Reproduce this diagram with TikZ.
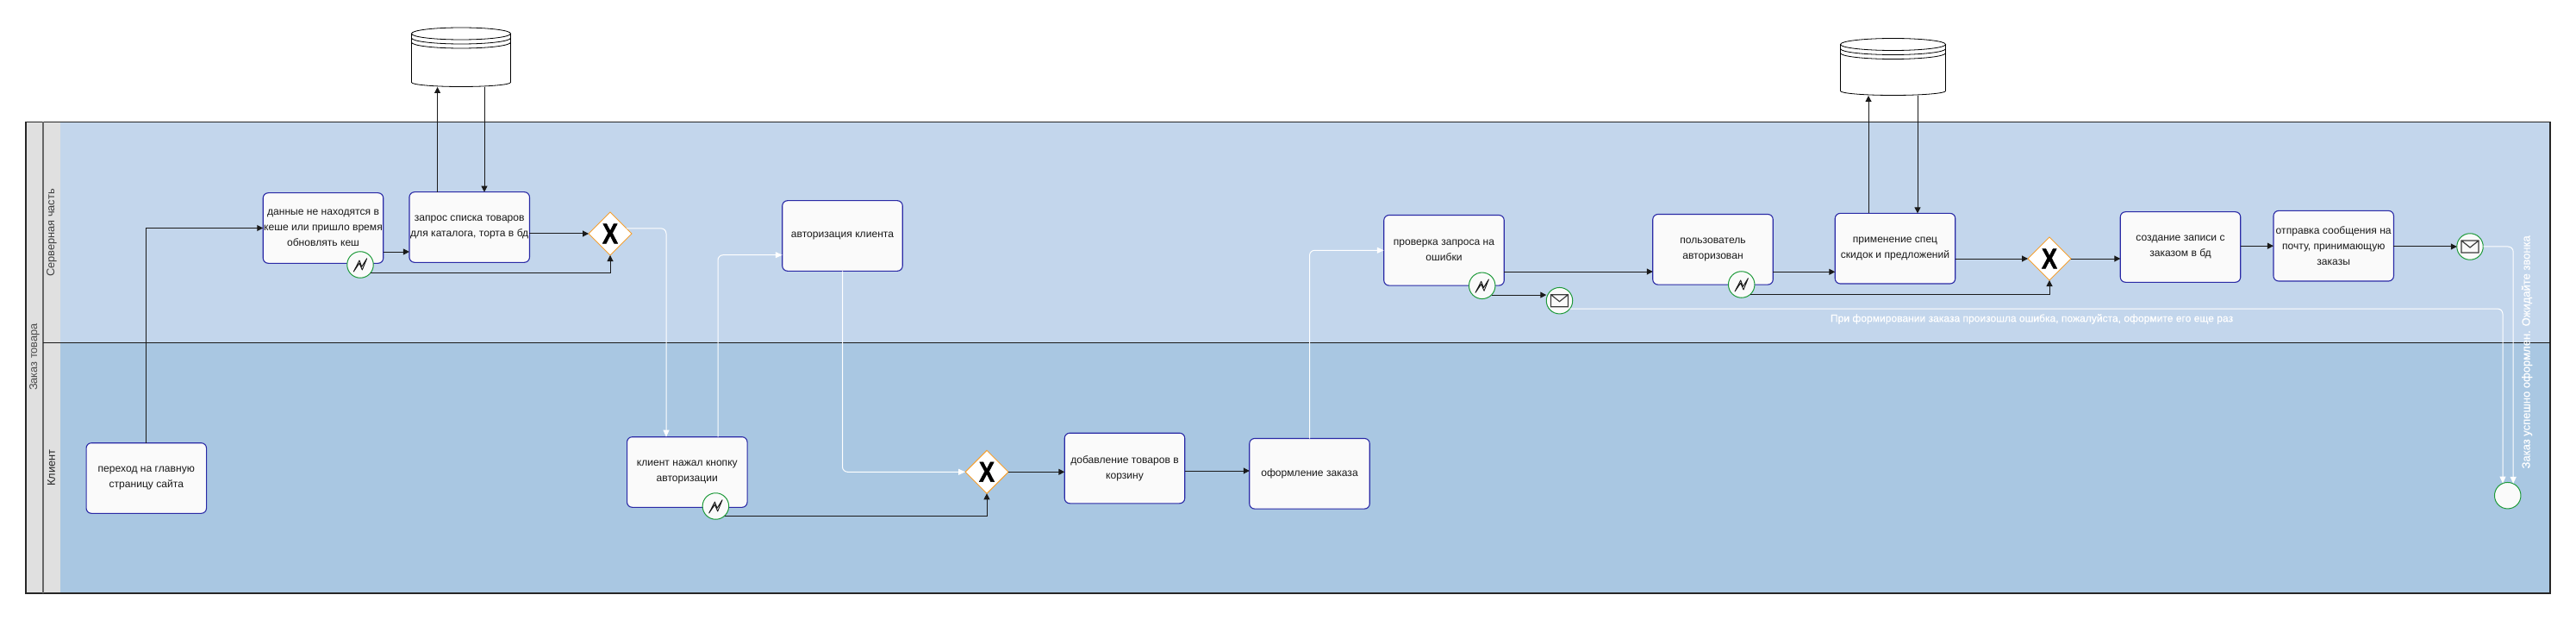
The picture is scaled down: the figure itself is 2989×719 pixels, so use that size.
\documentclass[tikz,border=0pt]{standalone}
\usepackage{fontspec}
\setmainfont{Liberation Sans}
\newfontface\gatefont{Liberation Sans Bold}[FakeBold=1.5]
\newfontface\msgfont{Liberation Sans}[FakeBold=0.5]
\usetikzlibrary{arrows.meta,shapes.geometric}
\definecolor{laneA}{HTML}{C3D6EC}
\definecolor{laneB}{HTML}{A9C7E2}
\definecolor{headgray}{HTML}{E0E0E0}
\definecolor{tasknavy}{HTML}{2A2AA6}
\definecolor{nodefill}{HTML}{FAFAFA}
\definecolor{gateorange}{HTML}{F5A030}
\definecolor{eventgreen}{HTML}{1E9A3A}
\definecolor{inkdark}{HTML}{1A1A1A}
\tikzset{
  x=1pt,y=-1pt,
  taskbox/.style={draw=tasknavy,line width=1.1pt,fill=nodefill,rounded corners=6pt,minimum width=139.5pt,minimum height=81.6pt,
    inner sep=0pt,outer sep=0pt,align=center,text=inkdark,font=\fontsize{12.1pt}{18pt}\selectfont},
  gatebox/.style={diamond,aspect=1,draw=gateorange,line width=1pt,fill=white,minimum size=50pt,inner sep=0pt,outer sep=0pt,
    font=\fontsize{30pt}{30pt}\gatefont},
  eventbox/.style={circle,draw=eventgreen,line width=1pt,fill=nodefill,minimum size=30.5pt,inner sep=0pt,outer sep=0pt},
  flow/.style={draw=inkdark,line width=1pt,-{Triangle[length=7pt,width=7pt]}},
  whiteflow/.style={draw=white,line width=1pt,rounded corners=6pt,-{Triangle[length=8pt,width=7pt,fill=white]}},
  lanetext/.style={rotate=90,font=\fontsize{12.8pt}{15pt}\selectfont,text=#1,inner sep=0pt},
  storebox/.style={inner sep=0pt,outer sep=0pt,minimum width=#1,minimum height=1pt},
  msgtext/.style={text=white,inner sep=0pt,font=\fontsize{12.05pt}{15pt}\msgfont},
}
\newcommand{\gatex}{\scalebox{.9}[1.1]{X}}
\newcommand{\zigzag}[1]{\draw[line width=.9pt,draw=inkdark,line join=round] (#1.center) ++(-7.7,8) -- ++(6.7,-13) -- ++(2.7,7.3) -- ++(6,-9.6) -- ++(-5.4,13.3) -- ++(-3.3,-7.7) -- cycle;}
\newcommand{\envelope}[1]{\draw[line width=1.2pt,draw=inkdark!85] (#1.center) ++(-10,-7) rectangle ++(20,14) (#1.center) ++(-10,-7) -- ++(10,8) -- ++(10,-8);}
% name, centre x, top y, bottom y, half width
\newcommand{\datastore}[5]{%
  \fill[white] (#2-#5,#3+7) rectangle (#2+#5,#4-5);
  \fill[white] (#2,#3+7) ellipse [x radius=#5pt,y radius=7pt];
  \fill[white] (#2,#4-5) ellipse [x radius=#5pt,y radius=5pt];
  \draw[line width=.8pt,draw=black] (#2-#5,#3+7) -- (#2-#5,#4-5) arc [start angle=180,end angle=360,x radius=#5pt,y radius=5pt] -- (#2+#5,#3+7);
  \draw[line width=.8pt,draw=black] (#2,#3+7) ellipse [x radius=#5pt,y radius=7pt];
  \draw[line width=.8pt,draw=black] (#2-#5,#3+12) arc [start angle=180,end angle=360,x radius=#5pt,y radius=7pt];
  \draw[line width=.8pt,draw=black] (#2-#5,#3+17) arc [start angle=180,end angle=360,x radius=#5pt,y radius=7pt];
  \node[storebox=#5pt] (#1) at (#2,#4) {};
}
\begin{document}
\begin{tikzpicture}
\useasboundingbox (0,0) rectangle (2989,719);
% pool and lanes
\fill[laneA] (70,141.5) rectangle (2959,397.3);
\fill[laneB] (70,397.3) rectangle (2959,688);
\fill[headgray] (30,141.5) rectangle (70,688);
\draw[line width=1.4pt,draw=black!85] (30,141.5) rectangle (2959,688);
\draw[line width=1.3pt,draw=black!60] (50,141.5) -- (50,688);
\draw[line width=1.1pt,draw=black!90] (50,397.3) -- (2959,397.3);
\node[lanetext=black!70] (pooltitle) at (40,414) {Заказ товара};
\node[lanetext=black!75] (lanetop) at (60,270) {Серверная часть};
\node[lanetext=black!85] (lanebottom) at (59.5,542.5) {Клиент};
% data stores
\datastore{db1}{535}{32}{100.5}{57.5}
\datastore{db2}{2196.5}{44.5}{110.5}{61}
% tasks
\node[taskbox] (t1) at (169.8,554.5) {переход на главную\\страницу сайта};
\node[taskbox] (t2) at (375,264.5) {данные не находятся в\\кеше или пришло время\\обновлять кеш};
\node[taskbox] (t3) at (544.7,263.5) {запрос списка товаров\\для каталога, торта в бд};
\node[taskbox] (t4) at (977.5,273.5) {авторизация клиента};
\node[taskbox] (t5) at (797.3,547.5) {клиент нажал кнопку\\авторизации};
\node[taskbox] (t6) at (1305,543) {добавление товаров в\\корзину};
\node[taskbox] (t7) at (1519.5,549.3) {оформление заказа};
\node[taskbox] (t8) at (1675.5,290.3) {проверка запроса на\\ошибки};
\node[taskbox] (t9) at (1987.5,289.3) {пользователь\\авторизован};
\node[taskbox] (t10) at (2199,288.2) {применение спец\\скидок и предложений};
\node[taskbox] (t11) at (2530,286.5) {создание записи с\\заказом в бд};
\node[taskbox] (t12) at (2707.7,285.2) {отправка сообщения на\\почту, принимающую\\заказы};
% gateways
\node[gatebox] (g1) at (708,271) {\gatex};
\node[gatebox] (g2) at (1145,547.3) {\gatex};
\node[gatebox] (g3) at (2378,300) {\gatex};
% events
\node[eventbox] (b1) at (418,307) {};
\node[eventbox] (b2) at (830.4,587) {};
\node[eventbox] (b3) at (1719.7,331.3) {};
\node[eventbox] (b4) at (2020.7,330) {};
\node[eventbox] (m1) at (1809.5,348.7) {};
\node[eventbox] (m2) at (2866,286) {};
\node[eventbox] (e1) at (2909.7,574.7) {};
\zigzag{b1}\zigzag{b2}\zigzag{b3}\zigzag{b4}
\envelope{m1}\envelope{m2}
% black flows
\draw[flow] (t1.north) |- (t2.west);
\draw[flow] (t2.east |- 0,292) -- (t3.west |- 0,292);
\draw[flow] (t3.east |- g1.west) -- (g1.west);
\draw[flow] (507.6,0 |- t3.north) -- (507.6,0 |- db1.south);
\draw[flow] (562,0 |- db1.south) -- (562,0 |- t3.north);
\draw[flow] (b1.-39) -| (g1.south);
\draw[flow] (b2.-48) -| (g2.south);
\draw[flow] (g2.east) -- (t6.west |- g2.east);
\draw[flow] (t6.east |- 0,546) -- (t7.west |- 0,546);
\draw[flow] (t8.east |- 0,315) -- (t9.west |- 0,315);
\draw[flow] (b3.-45) -- (b3.-45 -| m1.west);
\draw[flow] (t9.east |- 0,315.3) -- (t10.west |- 0,315.3);
\draw[flow] (2168,0 |- t10.north) -- (2168,0 |- db2.south);
\draw[flow] (2225,0 |- db2.south) -- (2225,0 |- t10.north);
\draw[flow] (t10.east |- g3.west) -- (g3.west);
\draw[flow] (b4.-47) -| (g3.south);
\draw[flow] (g3.east) -- (t11.west |- g3.east);
\draw[flow] (t11.east |- t12.west) -- (t12.west);
\draw[flow] (t12.east |- m2.west) -- (m2.west);
% white flows
\draw[whiteflow] (g1.18) -| (773,0 |- t5.north);
\draw[whiteflow] (833,0 |- t5.north) |- (t4.west |- 0,295.7);
\draw[whiteflow] (t4.south) |- (g2.west);
\draw[whiteflow] (t7.north) |- (t8.west);
\draw[whiteflow] (m1.-38) -| (e1.112);
\draw[whiteflow] (m2.east) -| (e1.65);
% message labels
\node[msgtext] (errtext) at (2357.5,370) {При формировании заказа произошла ошибка, пожалуйста, оформите его еще раз};
\node[msgtext,rotate=90,font=\fontsize{13pt}{15pt}\msgfont] (oktext) at (2932,408.3) {Заказ успешно оформлен. Ожидайте звонка};
\end{tikzpicture}
\end{document}
